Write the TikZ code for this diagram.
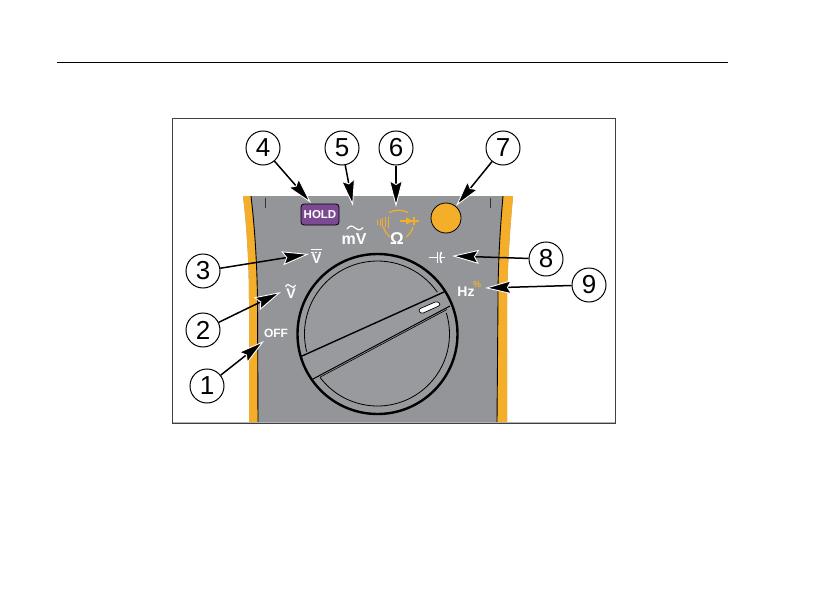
\documentclass[tikz,border=0pt]{standalone}
\usepackage{fontspec}
\setmainfont{Liberation Sans}
\usetikzlibrary{arrows.meta}
\definecolor{panelgray}{HTML}{939598}
\definecolor{flukeorange}{HTML}{F5AE2A}
\definecolor{holdpurple}{HTML}{7B4A93}
\tikzset{
  x=1pt,y=-1pt,
  callout/.style={circle,draw=black,fill=white,line width=1pt,minimum size=34pt,inner sep=0pt,font=\fontsize{26}{26}\selectfont},
  pointer/.style={line width=1.5pt,draw=black,-{Stealth[length=27pt,width=14pt,inset=4pt,line width=.9pt,color=white,fill=black]}},
  whitelabel/.style={text=white,inner sep=0pt,font=\fontsize{#1}{#1}\selectfont\bfseries},
  whitelabel/.default=12,
  icon/.style={draw=white,line width=1.2pt},
  oicon/.style={draw=flukeorange,line width=1.2pt},
}
\begin{document}
\begin{tikzpicture}
\useasboundingbox (0,0) rectangle (828,594);
\fill[white] (0,0) rectangle (828,594);
\draw[black,line width=.8pt] (57,62) -- (728,62);
% panel
\fill[panelgray] (243,196) -- (513,196) .. controls (510,230) and (507.5,265) .. (507,300) -- (507,422) -- (249,422) -- (249,300) .. controls (249,265) and (247,230) .. (243,196) -- cycle;
\fill[flukeorange] (243,196) .. controls (247,230) and (249,265) .. (249,300) -- (249,422) -- (258,422) -- (257.5,300) .. controls (257,265) and (255,230) .. (251,196) -- cycle;
\fill[flukeorange] (513,196) .. controls (510,230) and (507.5,265) .. (507,300) -- (507,422) -- (497,422) -- (498,300) .. controls (498,265) and (500,230) .. (503,196) -- cycle;
\draw[black,line width=.9pt] (251,196) .. controls (255,230) and (257,265) .. (257.5,300) -- (258,422);
\draw[black,line width=.9pt] (503,196) .. controls (500,230) and (498,265) .. (498,300) -- (497,422);
\draw[black!80,line width=.7pt] (265,198) -- (265,208);
\draw[black!80,line width=.7pt] (490,198) -- (490,208);
\draw[white!70!black,line width=1pt] (172,422) -- (615,422);
% dial
\filldraw[fill=panelgray!95!white,draw=black,line width=2.4pt] (377.5,334) circle[radius=80];
\begin{scope}[shift={(377.5,334)}]
\draw[black,line width=.8pt] (166:73) arc[start angle=166,end angle=325,radius=73];
\draw[black,line width=.8pt] (143:72) arc[start angle=143,end angle=-17,radius=72];
\end{scope}
\draw[black,line width=1.4pt] (302,356) -- (444,292);
\draw[black,line width=1pt] (313,379) -- (450,306);
\draw[black,line width=.6pt] (320,377.2) -- (447,309.5);
\draw[black,line width=.7pt,fill=white,rounded corners=2.6pt] (418,309.5) -- (437.5,301) -- (441,305) -- (421,314) -- cycle;
% HOLD button
\node[draw=black,line width=.8pt,fill=holdpurple,rounded corners=3pt,minimum width=38pt,minimum height=21pt,inner sep=0pt,text=white,font=\fontsize{11.5}{11.5}\selectfont\bfseries] (hold) at (320,214.5) {HOLD};
% orange button
\node[circle,draw=black,line width=.8pt,fill=flukeorange,minimum size=30pt,inner sep=0pt] (knob) at (446,218) {};
% labels
\node[whitelabel=12] (off) at (276,333) {OFF};
\node[whitelabel=14] (vac) at (291,294) {V};
\draw[icon] (285.5,287) .. controls (287,283.5) and (289,284) .. (290.5,286) .. controls (292,288) and (294,288) .. (295.5,285);
\node[whitelabel=14] (vdc) at (316.5,259) {V};
\draw[icon] (311,249.5) -- (322,249.5);
\draw[icon,line width=.9pt,dash pattern=on 2.6pt off 1.2pt] (311,252) -- (322,252);
\node[whitelabel=16] (mv) at (354,239) {mV};
\draw[icon] (347,229) .. controls (350,224.5) and (353,226) .. (355,228) .. controls (357,230) and (360,231) .. (363,227.5);
\node[whitelabel=17] (ohm) at (397,239) {Ω};
\node[whitelabel=14] (hz) at (466,291.5) {Hz};
\node[inner sep=0pt,text=flukeorange,font=\fontsize{9}{9}\selectfont\bfseries] (pct) at (477,284.5) {\%};
% continuity / diode icon
\begin{scope}
\draw[oicon] (389,212.5) .. controls (395,209.5) and (402,209.5) .. (408,212.5);
\draw[oicon] (383.5,227) .. controls (384.5,231) and (387,234.5) .. (390,237);
\draw[oicon] (413,227) .. controls (412,231) and (409.5,234.5) .. (406,237);
\draw[oicon,line width=1pt] (377.5,219.5) -- (377.5,224.5) (380,218.5) -- (380,225.5) (382.5,217.5) -- (382.5,226.5) (385,217) -- (385,227) (388,216.5) -- (388,227.5);
\draw[oicon,line width=1.5pt] (400,221) -- (419,221);
\fill[flukeorange] (406,217.5) -- (413,221) -- (406,224.5) -- cycle;
\draw[oicon] (414,217) -- (414,225);
\end{scope}
% capacitor
\draw[icon,line width=1.5pt] (428.5,257.5) -- (437.5,257.5) (437.5,252) -- (437.5,263);
\draw[icon,line width=1.5pt] (444.5,257.5) -- (440.5,257.5);
\draw[icon,line width=1.5pt] (441.5,252) .. controls (439.8,255) and (439.8,260) .. (441.5,263);
% frame
\draw[black!75,line width=.9pt] (172,118) rectangle (615,423);
% callouts
\node[callout] (c1) at (207,386) {1};
\node[callout] (c2) at (203,330) {2};
\node[callout] (c3) at (203,271) {3};
\node[callout] (c4) at (263,148) {4};
\node[callout] (c5) at (342,148) {5};
\node[callout] (c6) at (396,148) {6};
\node[callout] (c7) at (503,148) {7};
\node[callout] (c8) at (546,259) {8};
\node[callout] (c9) at (589,285) {9};
\coordinate (t1) at (264,341);
\coordinate (t2) at (281,292);
\coordinate (t3) at (309,254);
\coordinate (t4) at (311,203);
\coordinate (t5) at (353,206);
\coordinate (t6) at (396,207);
\coordinate (t7) at (456,206);
\coordinate (t8) at (452,256);
\coordinate (t9) at (485,288);
\foreach \i in {1,...,9} {\draw[pointer] (c\i) -- (t\i);}
\end{tikzpicture}
\end{document}
